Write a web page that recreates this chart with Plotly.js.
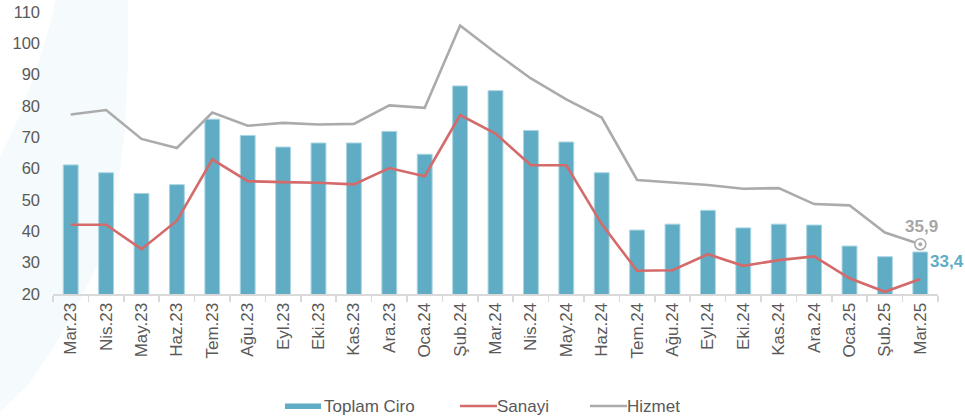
<!DOCTYPE html>
<html>
<head>
<meta charset="utf-8">
<script src="https://cdn.plot.ly/plotly-3.0.1.min.js"></script>
<style>
html,body{margin:0;padding:0;background:#fff;}
#chart{width:965px;height:420px;}
</style>
</head>
<body>
<div id="chart"></div>
<script>
const months = ["Mar.23","Nis.23","May.23","Haz.23","Tem.23","Ağu.23","Eyl.23","Eki.23","Kas.23","Ara.23","Oca.24","Şub.24","Mar.24","Nis.24","May.24","Haz.24","Tem.24","Ağu.24","Eyl.24","Eki.24","Kas.24","Ara.24","Oca.25","Şub.25","Mar.25"];
const toplamCiro = [61.2,58.7,52.1,54.9,75.8,70.6,66.9,68.2,68.2,71.9,64.6,86.4,84.9,72.2,68.5,58.7,40.4,42.3,46.7,41.1,42.3,42.0,35.3,31.9,33.4];
const sanayi = [42.1,42.1,34.3,43.4,63.0,56.0,55.7,55.5,55.0,60.2,57.6,77.1,71.2,61.1,61.1,42.3,27.4,27.6,32.7,29.0,30.8,32.0,25.0,20.7,24.8];
const hizmet = [77.3,78.7,69.5,66.6,77.9,73.7,74.6,74.1,74.3,80.2,79.4,105.7,97.0,88.8,82.1,76.3,56.4,55.7,54.8,53.6,53.8,48.7,48.3,39.6,35.9];
const yTicks = [20,30,40,50,60,70,80,90,100,110];
const seriesNames = ["Toplam Ciro","Sanayi","Hizmet"];

const BLUE = '#5FACC4', RED = '#D46A6A', GRAY = '#ABABAB', TXT = '#595959';
const FONT = '"Liberation Sans", Arial, sans-serif';
const fmt = v => v.toFixed(1).replace('.', ',');
const last = months.length - 1;

const traces = [
  {type:'bar', name:seriesNames[0], x:months, y:toplamCiro, width:0.42,
   marker:{color:BLUE, line:{color:'#A9D5E3', width:1}}, hoverinfo:'skip'},
  {type:'scatter', mode:'lines', name:seriesNames[1], x:months, y:sanayi,
   line:{color:RED, width:2.6}, hoverinfo:'skip'},
  {type:'scatter', mode:'lines', name:seriesNames[2], x:months, y:hizmet,
   line:{color:GRAY, width:2.6}, hoverinfo:'skip'},
  {type:'scatter', mode:'markers', showlegend:false, x:[months[last]], y:[hizmet[last]],
   marker:{symbol:'circle', size:11, color:'#ffffff', line:{color:GRAY, width:1.6}}, hoverinfo:'skip'},
  {type:'scatter', mode:'markers', showlegend:false, x:[months[last]], y:[hizmet[last]],
   marker:{symbol:'circle', size:4, color:GRAY}, hoverinfo:'skip'}
];

// pixel -> paper helpers (plot area 53..938 x 12..294)
const L = 53, R = 938, T = 12, B = 294;
const px = x => (x - L) / (R - L);
const py = y => (B - y) / (B - T);

// faint decorative crescent in the background
const outer = [[128,-2],[128,60],[125,130],[116,200],[100,260],[80,300],[55,345],[28,385],[0,412],[-10,422]];
const inner = [[-10,175],[0,157],[20,115],[38,65],[50,25],[56,-2]];
let path = '';
outer.forEach((p,i)=>{ path += (i?'L':'M') + px(p[0]).toFixed(4) + ',' + py(p[1]).toFixed(4) + ' '; });
inner.forEach(p=>{ path += 'L' + px(p[0]).toFixed(4) + ',' + py(p[1]).toFixed(4) + ' '; });
path += 'Z';

// custom legend (swatches + text)
const legY = 406;
const shapes = [
  {type:'path', xref:'paper', yref:'paper', path:path, layer:'below', fillcolor:'#F5FAFC', line:{width:0}},
  {type:'rect', xref:'paper', yref:'paper', x0:px(285), x1:px(321), y0:py(403.5), y1:py(409), fillcolor:BLUE, line:{width:0}},
  {type:'line', xref:'paper', yref:'paper', x0:px(460), x1:px(497), y0:py(legY), y1:py(legY), line:{color:RED, width:2.6}},
  {type:'line', xref:'paper', yref:'paper', x0:px(590), x1:px(627), y0:py(legY), y1:py(legY), line:{color:GRAY, width:2.6}}
];
const legX = [323, 496, 626];

const annotations = [
  {x:months[last], y:hizmet[last], xref:'x', yref:'y', text:'<b>'+fmt(hizmet[last])+'</b>',
   showarrow:false, yshift:18, xshift:1, font:{size:17, color:'#A6A6A6'}},
  {x:months[last], y:toplamCiro[last], xref:'x', yref:'y', text:'<b>'+fmt(toplamCiro[last])+'</b>',
   showarrow:false, xanchor:'left', xshift:8, yshift:-9, font:{size:17, color:BLUE}}
];
seriesNames.forEach((n,i)=>{
  annotations.push({x:px(legX[i]), y:py(legY), xref:'paper', yref:'paper', text:n, showarrow:false,
    xanchor:'left', yanchor:'middle', borderpad:0, font:{size:17, color:TXT}});
});

const layout = {
  width:965, height:420,
  margin:{l:53, r:27, t:12, b:126},
  paper_bgcolor:'#ffffff', plot_bgcolor:'rgba(0,0,0,0)',
  font:{family:FONT, color:TXT, size:17},
  showlegend:false,
  xaxis:{type:'category', showline:true, linecolor:'#D9D9D9', linewidth:2,
    ticks:'outside', tickson:'boundaries', ticklen:6, tickcolor:'#D9D9D9', tickwidth:1.5,
    tickangle:-90, tickfont:{size:17, color:TXT}, showgrid:false, zeroline:false,
    range:[-0.5, months.length-0.5], automargin:false},
  yaxis:{range:[20,110], tickvals:yTicks, ticktext:yTicks.map(String), showgrid:false,
    zeroline:false, showline:false, ticks:'', tickfont:{size:16.5, color:TXT},
    ticklabelstandoff:12, automargin:false},
  shapes:shapes,
  annotations:annotations
};

Plotly.newPlot('chart', traces, layout, {displayModeBar:false, staticPlot:true});
</script>
</body>
</html>
